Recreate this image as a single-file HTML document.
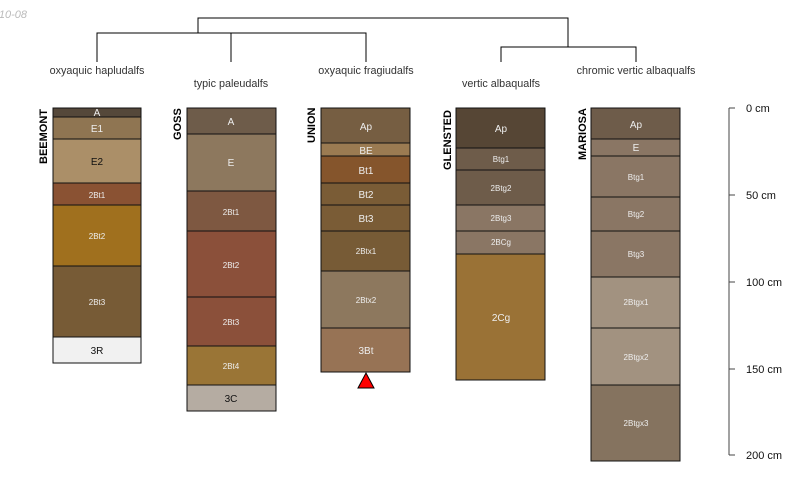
<!DOCTYPE html>
<html><head><meta charset="utf-8"><style>
html,body{margin:0;padding:0;background:#fff;}
svg{display:block;font-family:"Liberation Sans",sans-serif;}
</style></head><body>
<svg width="800" height="500" viewBox="0 0 800 500" xmlns="http://www.w3.org/2000/svg">
<text x="27" y="18" font-size="11" fill="#bbb" font-style="italic" text-anchor="end">2010-08</text>
<g stroke="#000" fill="none" stroke-width="1">
<path d="M198 33V18H568V47"/>
<path d="M97 62V33H366V62M231 33V62"/>
<path d="M501 62V47H636V62"/>
</g>
<g font-size="10.8" fill="#333" text-anchor="middle">
<text x="97" y="74">oxyaquic hapludalfs</text>
<text x="231" y="87">typic paleudalfs</text>
<text x="366" y="74">oxyaquic fragiudalfs</text>
<text x="501" y="87">vertic albaqualfs</text>
<text x="636" y="74">chromic vertic albaqualfs</text>
</g>
<g font-size="11" font-weight="bold" fill="#000">
<text transform="translate(47,164) rotate(-90)">BEEMONT</text>
<text transform="translate(181,140) rotate(-90)">GOSS</text>
<text transform="translate(315,143) rotate(-90)">UNION</text>
<text transform="translate(451,170) rotate(-90)">GLENSTED</text>
<text transform="translate(586,160) rotate(-90)">MARIOSA</text>
</g>
<g stroke="#111" stroke-width="1" font-size="10" text-anchor="middle">
<rect x="53" y="108" width="88" height="9" fill="#55483a"/>
<rect x="53" y="117" width="88" height="22" fill="#8f7552"/>
<rect x="53" y="139" width="88" height="44" fill="#ab8f68"/>
<rect x="53" y="183" width="88" height="22" fill="#8a5233"/>
<rect x="53" y="205" width="88" height="61" fill="#a0701e"/>
<rect x="53" y="266" width="88" height="71" fill="#775b36"/>
<rect x="53" y="337" width="88" height="26" fill="#f1f1f1"/>
<rect x="187" y="108" width="89" height="26" fill="#6e5c4a"/>
<rect x="187" y="134" width="89" height="57" fill="#8d785e"/>
<rect x="187" y="191" width="89" height="40" fill="#7e5841"/>
<rect x="187" y="231" width="89" height="66" fill="#8b503a"/>
<rect x="187" y="297" width="89" height="49" fill="#8b503a"/>
<rect x="187" y="346" width="89" height="39" fill="#9a7536"/>
<rect x="187" y="385" width="89" height="26" fill="#b5aca2"/>
<rect x="321" y="108" width="89" height="35" fill="#765e42"/>
<rect x="321" y="143" width="89" height="13" fill="#9b7b52"/>
<rect x="321" y="156" width="89" height="27" fill="#85552c"/>
<rect x="321" y="183" width="89" height="22" fill="#7a5c36"/>
<rect x="321" y="205" width="89" height="26" fill="#7a5c36"/>
<rect x="321" y="231" width="89" height="40" fill="#775b36"/>
<rect x="321" y="271" width="89" height="57" fill="#8d785e"/>
<rect x="321" y="328" width="89" height="44" fill="#977355"/>
<path d="M358 388L366 373L374 388Z" fill="#f00" stroke="#000"/>
<rect x="456" y="108" width="89" height="40" fill="#564635"/>
<rect x="456" y="148" width="89" height="22" fill="#6e5c4a"/>
<rect x="456" y="170" width="89" height="35" fill="#6e5c4a"/>
<rect x="456" y="205" width="89" height="26" fill="#8a7664"/>
<rect x="456" y="231" width="89" height="23" fill="#8a7664"/>
<rect x="456" y="254" width="89" height="126" fill="#9a7236"/>
<rect x="591" y="108" width="89" height="31" fill="#6e5c4a"/>
<rect x="591" y="139" width="89" height="17" fill="#8a7664"/>
<rect x="591" y="156" width="89" height="41" fill="#8a7664"/>
<rect x="591" y="197" width="89" height="34" fill="#8a7664"/>
<rect x="591" y="231" width="89" height="46" fill="#8a7664"/>
<rect x="591" y="277" width="89" height="51" fill="#a29280"/>
<rect x="591" y="328" width="89" height="57" fill="#a29280"/>
<rect x="591" y="385" width="89" height="76" fill="#85735f"/>
</g>
<g font-size="10" text-anchor="middle" fill="#eee">
<text x="97" y="116">A</text><text x="97" y="132">E1</text>
<text x="97" y="165" fill="#111">E2</text>
<text x="97" y="198" font-size="8">2Bt1</text><text x="97" y="239" font-size="8">2Bt2</text>
<text x="97" y="305" font-size="8">2Bt3</text><text x="97" y="354" fill="#111">3R</text>
<text x="231" y="125">A</text><text x="231" y="166">E</text>
<text x="231" y="215" font-size="8">2Bt1</text><text x="231" y="268" font-size="8">2Bt2</text>
<text x="231" y="325" font-size="8">2Bt3</text><text x="231" y="369" font-size="8">2Bt4</text>
<text x="231" y="402" fill="#111">3C</text>
<text x="366" y="130">Ap</text><text x="366" y="154">BE</text>
<text x="366" y="174">Bt1</text><text x="366" y="198">Bt2</text><text x="366" y="222">Bt3</text>
<text x="366" y="254" font-size="8">2Btx1</text><text x="366" y="303" font-size="8">2Btx2</text>
<text x="366" y="354">3Bt</text>
<text x="501" y="132">Ap</text><text x="501" y="162" font-size="8">Btg1</text>
<text x="501" y="191" font-size="8">2Btg2</text><text x="501" y="221" font-size="8">2Btg3</text>
<text x="501" y="245" font-size="8">2BCg</text><text x="501" y="321">2Cg</text>
<text x="636" y="128">Ap</text><text x="636" y="151">E</text>
<text x="636" y="180" font-size="8">Btg1</text><text x="636" y="217" font-size="8">Btg2</text>
<text x="636" y="257" font-size="8">Btg3</text><text x="636" y="305" font-size="8">2Btgx1</text>
<text x="636" y="360" font-size="8">2Btgx2</text><text x="636" y="426" font-size="8">2Btgx3</text>
</g>
<g stroke="#444" stroke-width="1">
<path d="M729 108V455M729 108H735M729 195H735M729 282H735M729 369H735M729 455H735"/>
</g>
<g font-size="11" fill="#111">
<text x="746" y="112">0 cm</text><text x="746" y="199">50 cm</text>
<text x="746" y="286">100 cm</text><text x="746" y="373">150 cm</text>
<text x="746" y="459">200 cm</text>
</g>
</svg>
</body></html>
